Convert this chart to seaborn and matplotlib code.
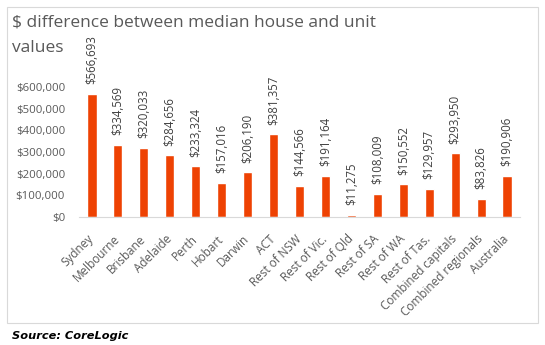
import matplotlib
matplotlib.use("Agg")
import matplotlib.pyplot as plt
import matplotlib.transforms as mtransforms
import seaborn as sns
import pandas as pd
from matplotlib.patches import Rectangle

regions = ["Sydney", "Melbourne", "Brisbane", "Adelaide", "Perth", "Hobart", "Darwin",
           "ACT", "Rest of NSW", "Rest of Vic.", "Rest of Qld", "Rest of SA", "Rest of WA",
           "Rest of Tas.", "Combined capitals", "Combined regionals", "Australia"]
values = [566693, 334569, 320033, 284656, 233324, 157016, 206190, 381357, 144566,
          191164, 11275, 108009, 150552, 129957, 293950, 83826, 190906]
yticks = [0, 100000, 200000, 300000, 400000, 500000, 600000]

df = pd.DataFrame({"region": regions, "value": values})

sns.set_theme(style="white")
plt.rcParams['font.family'] = ['Open Sans', 'DejaVu Sans']

W, H = 545, 345
fig = plt.figure(figsize=(W / 100, H / 100), dpi=100)
ax = fig.add_axes([79 / W, 1 - 217 / H, 441 / W, 130 / H])
sns.barplot(data=df, x="region", y="value", color="#EE4203", saturation=1,
            width=0.35, ax=ax)

ax.set_xlim(-0.5, len(regions) - 0.5)
ax.set_ylim(0, 600000)
ax.set_yticks(yticks)
ax.set_yticklabels([f"${v:,.0f}" for v in yticks], fontsize=8.2, color="#595959")
ax.set_xticks(range(len(regions)))
ax.set_xticklabels(regions, rotation=45, ha="right", va="center", rotation_mode="anchor",
                   fontsize=8.5, color="#595959")
offset = mtransforms.ScaledTranslation(8.5 / 72, 0, fig.dpi_scale_trans)
for lbl in ax.get_xticklabels():
    lbl.set_transform(lbl.get_transform() + offset)
ax.tick_params(axis="y", length=0, pad=10)
ax.tick_params(axis="x", length=0, pad=14.5)
ax.set_xlabel("")
ax.set_ylabel("")
for s in ["top", "right", "left"]:
    ax.spines[s].set_visible(False)
ax.spines["bottom"].set_color("#D9D9D9")
ax.spines["bottom"].set_linewidth(0.8)

for i, v in enumerate(values):
    ax.annotate(f"${v:,.0f}", (i, v), xytext=(0, 7), textcoords="offset points",
                rotation=90, ha="center", va="bottom", fontsize=8.3,
                color="#404040", annotation_clip=False)

fig.text(12 / W, 1 - 23 / H, "$ difference between median house and unit",
         fontsize=12.5, color="#595959", ha="left", va="center")
fig.text(12 / W, 1 - 48 / H, "values",
         fontsize=12.5, color="#595959", ha="left", va="center")

fig.patches.append(Rectangle((7 / W, 1 - 323 / H), 531 / W, 316 / H,
                             transform=fig.transFigure, fill=False,
                             edgecolor="#D9D9D9", linewidth=0.8))

fig.text(12 / W, 1 - 336 / H, "Source: CoreLogic", fontsize=8.2, fontweight="bold",
         fontstyle="italic", family="DejaVu Sans", color="black", ha="left", va="center")

fig.savefig("out.png", dpi=100, facecolor="white")
